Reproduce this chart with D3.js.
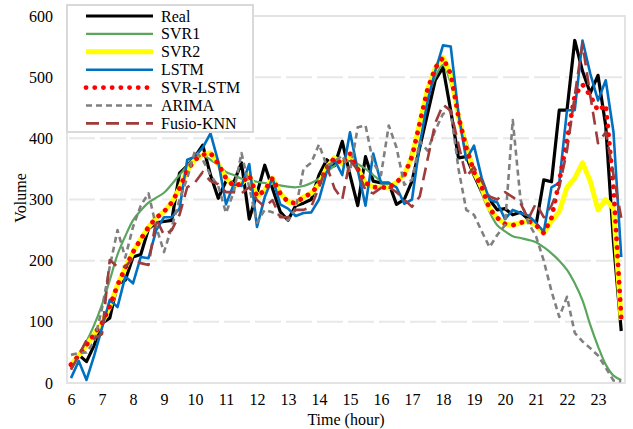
<!DOCTYPE html>
<html>
<head>
<meta charset="utf-8">
<script src="https://cdn.jsdelivr.net/npm/d3@7"></script>
<style>
    body { margin: 0; background: #fff; }
    text { font-family: "Liberation Serif", "Times New Roman", serif; }
</style>
</head>
<body>
<div id="root"></div>
<script>
// 15-minute samples from 6:00 to 23:45
let hours = d3.range(72).map(i => 6 + i / 4);
let xTickLabels = [6, 7, 8, 9, 10, 11, 12, 13, 14, 15, 16, 17, 18, 19, 20, 21, 22, 23];
let yTicks = [0, 100, 200, 300, 400, 500, 600];

let real = [25, 46, 35, 62, 98, 106, 162, 168, 206, 210,
    252, 262, 264, 266, 343, 355, 370, 389, 340, 302,
    330, 328, 360, 268, 310, 356, 318, 280, 266, 290,
    294, 300, 340, 365, 355, 395, 340, 290, 370, 330,
    327, 327, 292, 300, 330, 385, 440, 495, 516, 445,
    368, 370, 340, 312, 300, 283, 285, 275, 279, 268,
    258, 332, 329, 446, 446, 560, 510, 474, 503, 420,
    230, 85];
let svr1 = [22, 45, 68, 95, 128, 168, 210, 240, 266, 282,
    295, 303, 311, 325, 340, 355, 368, 372, 365, 356,
    345, 340, 334, 332, 329, 327, 325, 323, 321, 320,
    322, 327, 334, 345, 355, 363, 363, 358, 350, 340,
    330, 324, 328, 340, 380, 420, 465, 500, 520, 490,
    435, 395, 350, 310, 280, 258, 248, 240, 237, 234,
    230, 222, 212, 200, 185, 163, 135, 95, 60, 30,
    12, 5];
let svr2 = [30, 45, 62, 80, 98, 125, 160, 188, 214, 235,
    255, 270, 280, 295, 318, 348, 365, 373, 376, 358,
    335, 322, 326, 340, 305, 315, 335, 310, 296, 294,
    304, 310, 325, 352, 368, 358, 375, 350, 327, 320,
    320, 319, 328, 340, 370, 425, 480, 515, 532, 505,
    435, 385, 345, 320, 285, 270, 260, 258, 262, 265,
    258, 245, 265, 280, 320, 335, 360, 330, 283, 300,
    285, 103];
let lstm = [8, 36, 5, 45, 90, 136, 124, 174, 163, 206,
    204, 250, 271, 271, 285, 365, 370, 385, 408, 362,
    292, 325, 322, 358, 255, 304, 335, 292, 285, 273,
    278, 279, 300, 345, 365, 340, 410, 348, 290, 375,
    327, 327, 320, 293, 300, 390, 460, 510, 552, 550,
    440, 365, 388, 335, 300, 295, 268, 283, 278, 274,
    262, 247, 320, 327, 446, 446, 560, 506, 462, 495,
    410, 206];
let svrLstm = [30, 45, 62, 80, 98, 125, 160, 188, 214, 235,
    255, 270, 280, 295, 318, 348, 365, 373, 376, 358,
    335, 322, 326, 340, 305, 315, 335, 310, 296, 294,
    304, 310, 325, 352, 368, 358, 375, 350, 327, 320,
    320, 319, 328, 340, 370, 425, 480, 515, 532, 505,
    435, 385, 345, 320, 285, 270, 260, 258, 262, 265,
    258, 245, 270, 330, 397, 470, 488, 470, 445, 455,
    320, 106];
let arima = [46, 49, 50, 68, 122, 190, 250, 205, 255, 290,
    310, 255, 214, 255, 300, 335, 380, 365, 340, 322,
    278, 312, 376, 320, 262, 283, 279, 274, 266, 285,
    350, 360, 390, 355, 362, 372, 345, 418, 421, 360,
    340, 421, 385, 324, 332, 395, 380, 413, 440, 445,
    350, 283, 275, 248, 222, 242, 258, 430, 300, 262,
    240, 200, 150, 108, 141, 82, 68, 57, 45, 25,
    4, 3];
let fusioKnn = [22, 45, 70, 73, 80, 201, 190, 190, 204, 196,
    193, 268, 242, 250, 275, 320, 328, 345, 330, 325,
    312, 312, 310, 320, 299, 288, 299, 271, 271, 283,
    283, 288, 320, 355, 318, 300, 365, 348, 315, 310,
    319, 320, 312, 300, 288, 305, 365, 425, 455, 445,
    390, 337, 353, 330, 305, 300, 312, 304, 294, 268,
    294, 271, 290, 320, 380, 470, 555, 470, 392, 410,
    340, 270];

let seriesNames = ['Real', 'SVR1', 'SVR2', 'LSTM', 'SVR-LSTM', 'ARIMA', 'Fusio-KNN'];
let seriesValues = [real, svr1, svr2, lstm, svrLstm, arima, fusioKnn];

let styles = [
    { color: '#000000', width: 3.2, dash: null },
    { color: '#5aa65c', width: 2.2, dash: null, smooth: true },
    { color: '#ffff00', width: 5, dash: null },
    { color: '#0070c0', width: 2.6, dash: null },
    { color: '#ff0000', width: 4.8, dash: '0.1,8.6', cap: 'round' },
    { color: '#808080', width: 2.6, dash: '6,4' },
    { color: '#9e3b3b', width: 2.6, dash: '13,7' }
];

let width = 633, height = 429,
    plotLeft = 67, plotRight = 625, plotTop = 16, plotBottom = 383;

let svg = d3.select('#root').append('svg')
    .attr('width', width)
    .attr('height', height)
    .style('display', 'block');

let x = d3.scaleLinear().domain([6, 23.75]).range([71, 621.25]);
let y = d3.scaleLinear().domain([0, 600]).range([plotBottom, plotTop]);

// grid (Excel-like long dashes, broken near each hour tick)
let period = x(7) - x(6);
svg.append('g')
    .selectAll('line')
    .data(yTicks.filter(d => d > 0 && d < 600))
    .enter()
    .append('line')
    .attr('x1', x(6) - 2)
    .attr('x2', plotRight)
    .attr('y1', d => y(d))
    .attr('y2', d => y(d))
    .attr('stroke', '#e8e8e8')
    .attr('stroke-width', 2)
    .attr('stroke-dasharray', (period - 5) + ',5');

svg.append('rect')
    .attr('x', plotLeft)
    .attr('y', plotTop)
    .attr('width', plotRight - plotLeft)
    .attr('height', plotBottom - plotTop)
    .attr('fill', 'none')
    .attr('stroke', '#e3e3e3')
    .attr('stroke-width', 2);

// axes
let xAxis = d3.axisBottom(x).tickValues(xTickLabels).tickSize(0).tickPadding(11);
let gx = svg.append('g').attr('transform', 'translate(0,' + plotBottom + ')').call(xAxis);
gx.select('.domain').remove();
gx.selectAll('text').attr('font-size', 16).attr('fill', '#000')
    .attr('font-family', '"Liberation Serif", serif');

let yAxis = d3.axisLeft(y).tickValues(yTicks).tickSize(0).tickPadding(14);
let gy = svg.append('g').attr('transform', 'translate(' + plotLeft + ',0)').call(yAxis);
gy.select('.domain').remove();
gy.selectAll('text').attr('font-size', 16).attr('fill', '#000')
    .attr('font-family', '"Liberation Serif", serif');

svg.append('text')
    .attr('x', (plotLeft + plotRight) / 2)
    .attr('y', 425)
    .attr('text-anchor', 'middle')
    .attr('font-size', 16)
    .text('Time (hour)');

svg.append('text')
    .attr('transform', 'translate(26,198) rotate(-90)')
    .attr('text-anchor', 'middle')
    .attr('font-size', 16)
    .text('Volume');

// series
seriesValues.forEach((values, k) => {
    let st = styles[k];
    let line = d3.line()
        .x((d, i) => x(hours[i]))
        .y(d => y(d))
        .curve(st.smooth ? d3.curveCatmullRom : d3.curveLinear);
    svg.append('path')
        .datum(values)
        .attr('class', 'series-' + k)
        .attr('d', line)
        .attr('fill', 'none')
        .attr('stroke', st.color)
        .attr('stroke-width', st.width)
        .attr('stroke-dasharray', st.dash)
        .attr('stroke-linecap', st.cap || 'butt')
        .attr('stroke-linejoin', 'round');
});

// legend
let legend = svg.append('g').attr('class', 'legend');
legend.append('rect')
    .attr('x', 67)
    .attr('y', 5)
    .attr('width', 186)
    .attr('height', 127)
    .attr('fill', '#fff')
    .attr('stroke', '#d9d9d9')
    .attr('stroke-width', 2);

seriesNames.forEach((name, k) => {
    let st = styles[k],
        ly = 16 + k * 17.9;
    legend.append('line')
        .attr('x1', 86)
        .attr('x2', 153)
        .attr('y1', ly)
        .attr('y2', ly)
        .attr('stroke', st.color)
        .attr('stroke-width', st.width)
        .attr('stroke-dasharray', st.dash)
        .attr('stroke-linecap', st.cap || 'butt');
    legend.append('text')
        .attr('x', 161)
        .attr('y', ly + 5.5)
        .attr('font-size', 16)
        .text(name);
});
</script>
</body>
</html>
